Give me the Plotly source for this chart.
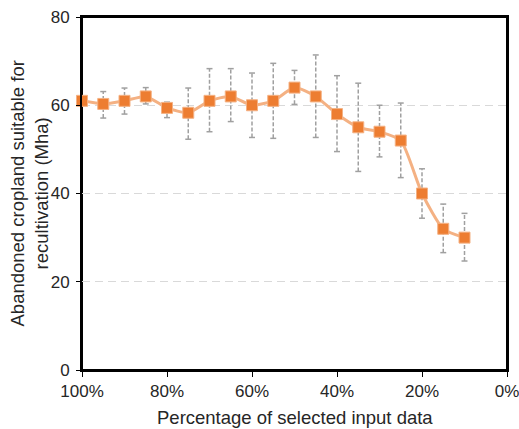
import plotly.graph_objects as go

pct = [100, 95, 90, 85, 80, 75, 70, 65, 60, 55, 50, 45, 40, 35, 30, 25, 20, 15, 10]
mean = [61, 60.3, 61, 62, 59.4, 58.3, 61, 62, 60, 61, 64, 62, 58, 55, 54, 52, 40, 32, 30]
upper = [61, 63.1, 63.9, 64, 60.7, 63.9, 68.3, 68.3, 67.3, 69.5, 67.9, 71.4, 66.7, 65, 60, 60.5, 45.6, 37.6, 35.5]
lower = [61, 57.1, 58, 60.3, 57.2, 52.3, 54, 56.3, 52.7, 52.5, 60.2, 52.7, 49.5, 45, 48.3, 43.6, 34.4, 26.6, 24.7]

x_ticks = [100, 80, 60, 40, 20, 0]
y_ticks = [0, 20, 40, 60, 80]

fig = go.Figure()

# dashed error bars built from data
ex, ey = [], []
cx, cy = [], []
cap = 0.7
for p, lo, hi in zip(pct, lower, upper):
    if hi == lo:
        continue
    ex += [p, p, None]
    ey += [lo, hi, None]
    cx += [p - cap, p + cap, None, p - cap, p + cap, None]
    cy += [hi, hi, None, lo, lo, None]

fig.add_trace(go.Scatter(x=ex, y=ey, mode="lines", line=dict(color="#A0A0A0", width=1.5, dash="4px,2px"),
                         hoverinfo="skip", showlegend=False, cliponaxis=False))
fig.add_trace(go.Scatter(x=cx, y=cy, mode="lines", line=dict(color="#A0A0A0", width=1.5),
                         hoverinfo="skip", showlegend=False, cliponaxis=False))

fig.add_trace(go.Scatter(x=pct, y=mean, mode="lines+markers",
                         line=dict(color="#F4B183", width=3, shape="spline", smoothing=0.6),
                         marker=dict(symbol="square", size=11, color="#ED7D31",
                                     line=dict(color="#F4B183", width=1)),
                         showlegend=False, cliponaxis=False))

font = "Liberation Sans, Arial, sans-serif"
fig.update_layout(
    width=519, height=429,
    margin=dict(l=82, r=12, t=17, b=59, autoexpand=False),
    plot_bgcolor="white", paper_bgcolor="white",
    font=dict(family=font, size=17, color="#262626"),
    xaxis=dict(range=[100, 0], tickvals=x_ticks, ticktext=[f"{v}%" for v in x_ticks],
               showgrid=False, zeroline=False, showline=True, linecolor="black", linewidth=2,
               mirror=True, ticks="outside", ticklen=5, tickcolor="black", automargin=False,
               ticklabeloverflow="allow", tickfont=dict(size=17)),
    yaxis=dict(range=[0, 80], tickvals=y_ticks, showgrid=True, gridcolor="#D9D9D9",
               griddash="8px,5px", gridwidth=1, zeroline=False, showline=True, linecolor="black",
               linewidth=2, mirror=True, ticks="outside", ticklen=4, tickcolor="black", automargin=False,
               ticklabelstandoff=3, ticklabeloverflow="allow", tickfont=dict(size=17)),
    shapes=[dict(type="rect", xref="paper", yref="paper", x0=0, x1=1, y0=0, y1=1,
                 line=dict(color="black", width=2), layer="below")],
    annotations=[
        dict(text="Percentage of selected input data", xref="paper", yref="paper", x=0.5, y=0,
             xanchor="center", yanchor="middle", yshift=-47, showarrow=False, font=dict(size=18.5)),
        dict(text="Abandoned cropland suitable for<br>recultivation (Mha)", xref="paper", yref="paper",
             x=0, y=0.5, xanchor="center", yanchor="middle", xshift=-53, textangle=-90,
             showarrow=False, font=dict(size=18.5)),
    ],
)

fig.write_html("out.html", config={"displayModeBar": False},
               post_script="document.body.style.margin='0';")
